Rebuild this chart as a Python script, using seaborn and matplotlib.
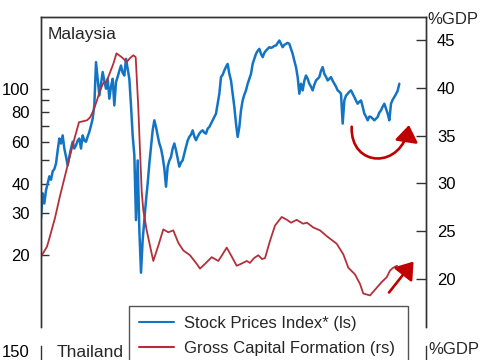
import numpy as np
import pandas as pd
import matplotlib
matplotlib.use("Agg")
import matplotlib.pyplot as plt
import seaborn as sns
from matplotlib.patches import FancyArrowPatch
from matplotlib.path import Path
from matplotlib.ticker import NullLocator

# ---------------- data ----------------
# Malaysia stock prices index (left axis, log scale), bi-monthly from Jan 1988
stock_start_year = 1988.0
stock_index = [
    28.6, 36.4, 33.0, 37.5, 40.0, 42.9, 41.5, 45.0, 46.0, 48.5,
    55.0, 61.8, 58.9, 63.7, 56.1, 51.9, 47.7, 51.9, 56.1, 59.9,
    56.1, 57.9, 60.6, 61.8, 56.1, 63.7, 60.6, 59.9, 63.0, 65.9,
    70.0, 74.9, 85.1, 129.3, 110.1, 93.7, 104.9, 117.5, 108.0, 100.0,
    110.1, 90.8, 102.0, 110.1, 85.1, 106.7, 112.2, 118.9, 125.1, 116.6,
    113.6, 133.5, 121.2, 110.1, 85.1, 63.7, 52.6, 28.1, 50.0, 25.6,
    16.9, 23.2, 28.1, 34.0, 40.0, 48.5, 57.2, 66.9, 73.7, 69.1,
    63.6, 58.9, 56.1, 51.7, 46.3, 38.8, 47.1, 49.9, 51.7, 56.1,
    58.9, 55.2, 50.9, 47.1, 49.0, 50.1, 53.5, 57.0, 60.6, 62.8,
    64.2, 66.9, 63.0, 60.8, 63.0, 64.8, 66.1, 66.9, 65.4, 64.8,
    68.0, 69.1, 71.4, 73.7, 76.4, 78.6, 86.5, 95.3, 111.9, 114.4,
    119.3, 123.6, 127.1, 115.5, 108.3, 95.3, 83.9, 71.4, 62.8, 69.1,
    81.2, 89.3, 94.4, 98.4, 104.9, 110.1, 115.5, 127.2, 133.5, 140.1,
    144.2, 147.0, 140.1, 135.7, 141.4, 144.6, 147.0, 149.4, 148.4, 149.4,
    151.3, 151.8, 155.7, 159.3, 154.3, 149.4, 152.8, 154.3, 155.7, 154.3,
    147.0, 140.1, 131.0, 123.2, 111.9, 95.3, 104.9, 98.4, 108.0, 113.6,
    110.1, 104.9, 102.0, 98.4, 103.9, 108.3, 110.1, 111.9, 118.9, 123.2,
    115.5, 112.2, 108.3, 110.1, 111.9, 108.0, 104.9, 102.0, 98.4, 97.1,
    95.3, 71.4, 89.3, 93.5, 95.3, 97.1, 98.4, 95.3, 92.3, 89.1,
    86.5, 88.2, 89.3, 84.1, 78.6, 76.4, 73.7, 76.4, 76.1, 74.9,
    73.7, 74.9, 76.1, 79.4, 81.2, 84.1, 86.5, 82.5, 78.6, 73.7,
    86.5, 89.9, 92.3, 95.0, 98.1, 104.9,
]

# Gross capital formation, % of GDP (right axis)
gcf_year = [
    1988.0, 1988.6, 1988.9, 1989.4, 1989.9, 1990.4, 1990.9, 1991.4, 1991.8, 1992.2,
    1992.6, 1992.9, 1993.23, 1993.57, 1993.9, 1994.23, 1994.57, 1994.9, 1995.23, 1995.55,
    1996.07, 1996.57, 1996.9, 1997.23, 1997.47, 1997.73, 1997.9, 1998.07, 1998.23, 1998.57,
    1998.9, 1999.23, 1999.73, 2000.23, 2000.73, 2001.23, 2001.73, 2002.23, 2002.9, 2003.57,
    2003.9, 2004.4, 2005.07, 2005.73, 2006.1, 2006.57, 2007.0, 2007.57, 2008.0, 2008.57,
    2008.9, 2009.3, 2009.73, 2010.1, 2010.4, 2010.9, 2011.4, 2012.07, 2012.6, 2013.0,
    2013.57, 2014.2, 2014.6, 2015.23, 2015.9, 2016.57, 2017.07, 2017.57, 2018.23, 2018.73,
    2019.4, 2019.9, 2020.23, 2020.9, 2021.57, 2022.07, 2022.57, 2022.9, 2023.23, 2023.6,
]
gcf_pct = [
    22.35, 23.4, 24.5, 26.4, 28.7, 30.8, 32.9, 34.9, 36.4, 36.5,
    36.6, 36.9, 37.6, 38.6, 39.7, 40.5, 40.7, 41.6, 42.5, 43.6,
    43.2, 42.7, 43.1, 43.4, 43.2, 37.9, 33.4, 29.2, 27.2, 25.1,
    23.5, 21.9, 23.5, 25.2, 24.9, 25.1, 23.8, 23.0, 22.5, 21.6,
    21.1, 21.6, 22.3, 21.9, 22.5, 23.3, 22.5, 21.4, 21.6, 21.9,
    21.7, 22.2, 22.5, 22.1, 22.2, 24.0, 25.6, 26.5, 26.2, 25.9,
    26.2, 25.8, 25.9, 25.4, 25.1, 24.5, 24.1, 23.7, 22.6, 21.2,
    20.5, 19.5, 18.5, 18.3, 19.1, 19.7, 20.2, 20.9, 21.2, 21.4,
]

left_ticks = [20, 30, 40, 50, 60, 70, 80, 90, 100]
left_labels = ["20", "30", "40", "", "60", "", "80", "", "100"]
right_ticks = [20, 25, 30, 35, 40, 45]
right_labels = ["20", "25", "30", "35", "40", "45"]
thai_ticks = [150]
thai_labels = ["150"]

series_names = ["Stock Prices Index* (ls)", "Gross Capital Formation (rs)"]
panel_names = ["Malaysia", "Thailand"]

stock_year = stock_start_year + np.arange(len(stock_index)) / 6.0

# ---------------- style ----------------
sns.set_theme(style="white")
plt.rcParams["font.family"] = ["Liberation Sans", "DejaVu Sans"]
plt.rcParams["font.size"] = 12

BLUE = "#1474C4"
RED = "#B3303A"
ARROW = "#C00000"
SPINE = "#333333"

W, H = 485, 360
fig = plt.figure(figsize=(W / 100, H / 100), dpi=100)


def fx(px):
    return px / W


def fy(py):
    return 1 - py / H


ax = fig.add_axes([fx(41), fy(327), fx(426) - fx(41), fy(17) - fy(327)])
ax2 = ax.twinx()

sns.lineplot(x=stock_year, y=stock_index, ax=ax, color=BLUE, lw=1.8,
             estimator=None, sort=False, label=series_names[0], legend=False)
sns.lineplot(x=gcf_year, y=gcf_pct, ax=ax2, color=RED, lw=1.3,
             estimator=None, sort=False, label=series_names[1], legend=False)

ax.set_xlim(1988.0, 2026.5)
ax.set_yscale("log")
ax.set_ylim(10, 200)
ax.yaxis.set_major_locator(matplotlib.ticker.FixedLocator(left_ticks))
ax.yaxis.set_major_formatter(matplotlib.ticker.FixedFormatter(left_labels))
ax.yaxis.set_minor_locator(NullLocator())
ax2.set_ylim(15, 47.4)
ax2.set_yticks(right_ticks)
ax2.set_yticklabels(right_labels)

for a in (ax, ax2):
    a.set_xlabel("")
    a.set_ylabel("")
    a.set_xticks([])
    a.spines["bottom"].set_visible(False)
    for s in a.spines.values():
        s.set_color(SPINE)
        s.set_linewidth(1.0)
ax.tick_params(axis="y", direction="in", length=6, width=1, color=SPINE,
               pad=8, labelsize=12, labelcolor="black")
ax2.tick_params(axis="y", direction="in", length=7, width=1, color=SPINE,
                pad=8, labelsize=12, labelcolor="black")

ax.text((48 - 41) / 385, 1 - (35 - 17) / 310, panel_names[0],
        transform=ax.transAxes, ha="left", va="center", fontsize=12.5)
fig.text(fx(427), fy(19), "%GDP", ha="left", va="center", fontsize=12)


# ---------------- annotations (arrows) ----------------
def axpt(px, py):
    return ((px - 41) / 385, 1 - (py - 17) / 310)


curve = Path([axpt(351.7, 126.7), axpt(350, 168), axpt(402, 170), axpt(409, 125)],
             [Path.MOVETO, Path.CURVE4, Path.CURVE4, Path.CURVE4])
arc = FancyArrowPatch(path=curve, transform=ax.transAxes,
                      arrowstyle="-|>,head_length=0.5,head_width=0.35",
                      mutation_scale=20, color=ARROW, lw=1.9, zorder=6)
ax2.add_patch(arc)
ax2.annotate("", xy=axpt(413.5, 261.5), xytext=axpt(389, 292.5),
             xycoords="axes fraction", textcoords="axes fraction",
             arrowprops=dict(arrowstyle="-|>,head_length=0.5,head_width=0.35",
                             mutation_scale=20, color=ARROW, lw=1.9,
                             shrinkA=0, shrinkB=0))

# ---------------- Thailand panel (top edge only) ----------------
axt = fig.add_axes([fx(41), fy(346) - 0.6, fx(426) - fx(41), 0.6])
axt.set_ylim(0, 153.6)
axt.set_xlim(0, 1)
axt.set_xticks([])
axt.set_yticks(thai_ticks)
axt.set_yticklabels(thai_labels)
axt.spines["top"].set_visible(False)
axt.spines["bottom"].set_visible(False)
for s in axt.spines.values():
    s.set_color(SPINE)
    s.set_linewidth(1.0)
axt.tick_params(axis="y", direction="in", length=6, width=1, color=SPINE,
                pad=8, labelsize=12, labelcolor="black")
axt.set_facecolor("none")
fig.text(fx(57), fy(352.5), panel_names[1], ha="left", va="center", fontsize=12.5)
fig.text(fx(428), fy(350), "%GDP", ha="left", va="center", fontsize=12)

# ---------------- legend ----------------
h1 = ax.get_lines()[0]
h2 = ax2.get_lines()[0]
leg = fig.legend([h1, h2], series_names, loc="upper left",
                 bbox_to_anchor=(fx(129), fy(306), fx(408) - fx(129), 0.0),
                 mode="expand", borderaxespad=0, fancybox=False, framealpha=1,
                 edgecolor="#555555", fontsize=12, handlelength=2.1,
                 handletextpad=0.6, labelspacing=0.6, borderpad=0.6)
leg.get_frame().set_linewidth(1.0)
for ln in leg.get_lines():
    ln.set_linewidth(1.5)

fig.savefig("out.png", dpi=100)
